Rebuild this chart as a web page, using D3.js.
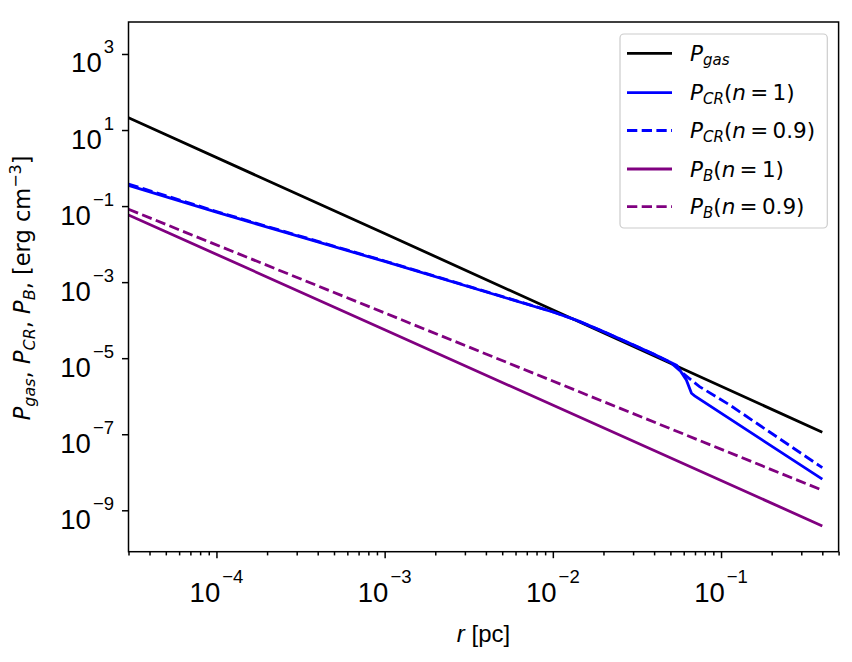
<!DOCTYPE html>
<html>
<head>
<meta charset="utf-8">
<script src="https://cdn.jsdelivr.net/npm/d3@7"></script>
<style>
  body { margin: 0; background: #fff; }
  svg { display: block; }
</style>
</head>
<body>
<script>
// radius r [pc] and pressures [erg cm^-3]
var rGas = [3e-5, 1e-3, 0.4];
var pGas = [21.1, 1.9e-2, 1.13e-7];

var rCR1 = [3e-5, 1e-4, 1e-3, 1e-2, 0.0138, 0.02, 0.03, 0.04, 0.05, 0.0545, 0.0622, 0.0667, 0.0697, 0.4];
var pCR1 = [0.35, 0.069, 3.5e-3, 1.64e-4, 1.0e-4, 5.0e-5, 2.24e-5, 1.26e-5, 7.8e-6, 6.45e-6, 2.68e-6, 1.2e-6, 1.02e-6, 6.6e-9];

var rCR09 = [3e-5, 1e-4, 1e-3, 1e-2, 0.0138, 0.02, 0.03, 0.04, 0.05, 0.058, 0.0745, 0.1125, 0.4];
var pCR09 = [0.38, 0.072, 3.6e-3, 1.66e-4, 1.0e-4, 5.0e-5, 2.24e-5, 1.26e-5, 7.8e-6, 4.35e-6, 1.79e-6, 5.9e-7, 1.32e-8];

var rB1 = [3e-5, 1e-3, 0.4];
var pB1 = [0.0585, 5.6e-5, 3.88e-10];

var rB09 = [3e-5, 1e-3, 0.4];
var pB09 = [0.0824, 1.55e-4, 3.37e-9];

var xMajor = [1e-4, 1e-3, 1e-2, 1e-1];
var xMajorExp = ["\u22124", "\u22123", "\u22122", "\u22121"];
var yMajor = [1e3, 1e1, 1e-1, 1e-3, 1e-5, 1e-7, 1e-9];
var yMajorExp = ["3", "1", "\u22121", "\u22123", "\u22125", "\u22127", "\u22129"];

var W = 852, H = 662;
var pl = 128.5, pr = 838.6, pt = 22, pb = 551.7;

var svg = d3.select("body").append("svg").attr("width", W).attr("height", H);

var x = d3.scaleLog().domain([3e-5, 0.5]).range([pl, pr]);
var y = d3.scaleLog().domain([Math.pow(10, -10.089), Math.pow(10, 3.841)]).range([pb, pt]);

// minor x ticks
var xMinor = [];
[1e-5, 1e-4, 1e-3, 1e-2, 1e-1].forEach(function(d) {
  for (var k = 2; k <= 9; k++) {
    var v = d * k;
    if (v >= 3e-5 && v <= 0.5 + 1e-9) xMinor.push(v);
  }
});

svg.append("clipPath").attr("id", "clip").append("rect")
  .attr("x", pl).attr("y", pt).attr("width", pr - pl).attr("height", pb - pt);

var series = [
  { r: rGas, p: pGas, color: "#000000", dash: null },
  { r: rCR1, p: pCR1, color: "#0000ff", dash: null },
  { r: rCR09, p: pCR09, color: "#0000ff", dash: "10.3,4.4" },
  { r: rB1, p: pB1, color: "#800080", dash: null },
  { r: rB09, p: pB09, color: "#800080", dash: "10.3,4.4" }
];

var line = d3.line().x(function(d) { return x(d[0]); }).y(function(d) { return y(d[1]); });

svg.append("g").attr("clip-path", "url(#clip)").selectAll("path").data(series).enter().append("path")
  .attr("d", function(s) { return line(s.r.map(function(v, i) { return [v, s.p[i]]; })); })
  .attr("fill", "none")
  .attr("stroke", function(s) { return s.color; })
  .attr("stroke-width", 2.8)
  .attr("stroke-dasharray", function(s) { return s.dash; });

// axes
var gx = svg.append("g").attr("transform", "translate(0," + pb + ")");
gx.call(d3.axisBottom(x).tickValues(xMinor).tickSize(3.7).tickFormat(""));
gx.append("g").call(d3.axisBottom(x).tickValues(xMajor).tickSize(6.5).tickFormat(""));
var gy = svg.append("g").attr("transform", "translate(" + pl + ",0)");
gy.call(d3.axisLeft(y).tickValues(yMajor).tickSize(6.5).tickFormat(""));
svg.selectAll(".domain").remove();
svg.selectAll(".tick line").attr("stroke", "#000").attr("stroke-width", 1.5);

svg.append("rect").attr("x", pl).attr("y", pt).attr("width", pr - pl).attr("height", pb - pt)
  .attr("fill", "none").attr("stroke", "#000").attr("stroke-width", 1.5);

var tickFont = "'Liberation Sans', Arial, sans-serif";

xMajor.forEach(function(v, i) {
  var t = svg.append("text").attr("x", x(v)).attr("y", 601.5)
    .attr("text-anchor", "middle").attr("font-family", tickFont).attr("font-size", 27.5);
  t.append("tspan").text("10");
  t.append("tspan").attr("font-size", 18.5).attr("dx", 2).attr("dy", -19).text(xMajorExp[i]);
});

yMajor.forEach(function(v, i) {
  var t = svg.append("text").attr("x", 114).attr("y", y(v) + 18.5)
    .attr("text-anchor", "end").attr("font-family", tickFont).attr("font-size", 27.5);
  t.append("tspan").text("10");
  t.append("tspan").attr("font-size", 18.5).attr("dx", 2).attr("dy", -19).text(yMajorExp[i]);
});

// axis labels
var xl = svg.append("text").attr("x", (pl + pr) / 2).attr("y", 642)
  .attr("text-anchor", "middle").attr("font-family", tickFont).attr("font-size", 24);
xl.append("tspan").attr("font-style", "italic").text("r");
xl.append("tspan").text(" [pc]");

var mathFont = "'DejaVu Sans', sans-serif";
var yl = svg.append("text").attr("transform", "translate(30," + ((pt + pb) / 2 + 1) + ") rotate(-90)")
  .attr("text-anchor", "middle").attr("font-family", mathFont).attr("font-size", 22.5);
function sub(t, s) {
  t.append("tspan").attr("font-style", "italic").text("P");
  t.append("tspan").attr("font-style", "italic").attr("font-size", 16).attr("dy", 4.5).text(s);
  t.append("tspan").attr("dy", -4.5).text(", ");
}
sub(yl, "gas"); sub(yl, "CR"); sub(yl, "B");
yl.append("tspan").text(" [erg cm");
yl.append("tspan").attr("font-size", 16).attr("dy", -9).text("\u22123");
yl.append("tspan").attr("dy", 9).text("]");

// legend
var legX = 620, legY = 34, legW = 207.3, legH = 194;
svg.append("rect").attr("x", legX).attr("y", legY).attr("width", legW).attr("height", legH)
  .attr("rx", 4).attr("fill", "#fff").attr("fill-opacity", 0.8)
  .attr("stroke", "#cccccc").attr("stroke-width", 1.2);

var legLabels = [
  { sub: "gas", rest: null },
  { sub: "CR", rest: "1" },
  { sub: "CR", rest: "0.9" },
  { sub: "B", rest: "1" },
  { sub: "B", rest: "0.9" }
];
var rowY = [53.3, 92.7, 130.5, 169, 206.7];

series.forEach(function(s, i) {
  svg.append("line").attr("x1", 627).attr("x2", 672).attr("y1", rowY[i]).attr("y2", rowY[i])
    .attr("stroke", s.color).attr("stroke-width", 2.8).attr("stroke-dasharray", s.dash);
  var t = svg.append("text").attr("x", 690).attr("y", rowY[i] + 7.5)
    .attr("font-family", mathFont).attr("font-size", 21.5);
  t.append("tspan").attr("font-style", "italic").text("P");
  t.append("tspan").attr("font-style", "italic").attr("font-size", 15).attr("dy", 4).text(legLabels[i].sub);
  if (legLabels[i].rest) {
    t.append("tspan").attr("dy", -4).text("(");
    t.append("tspan").attr("font-style", "italic").text("n");
    t.append("tspan").text("\u2009=\u2009" + legLabels[i].rest + ")");
  }
});
</script>
</body>
</html>
